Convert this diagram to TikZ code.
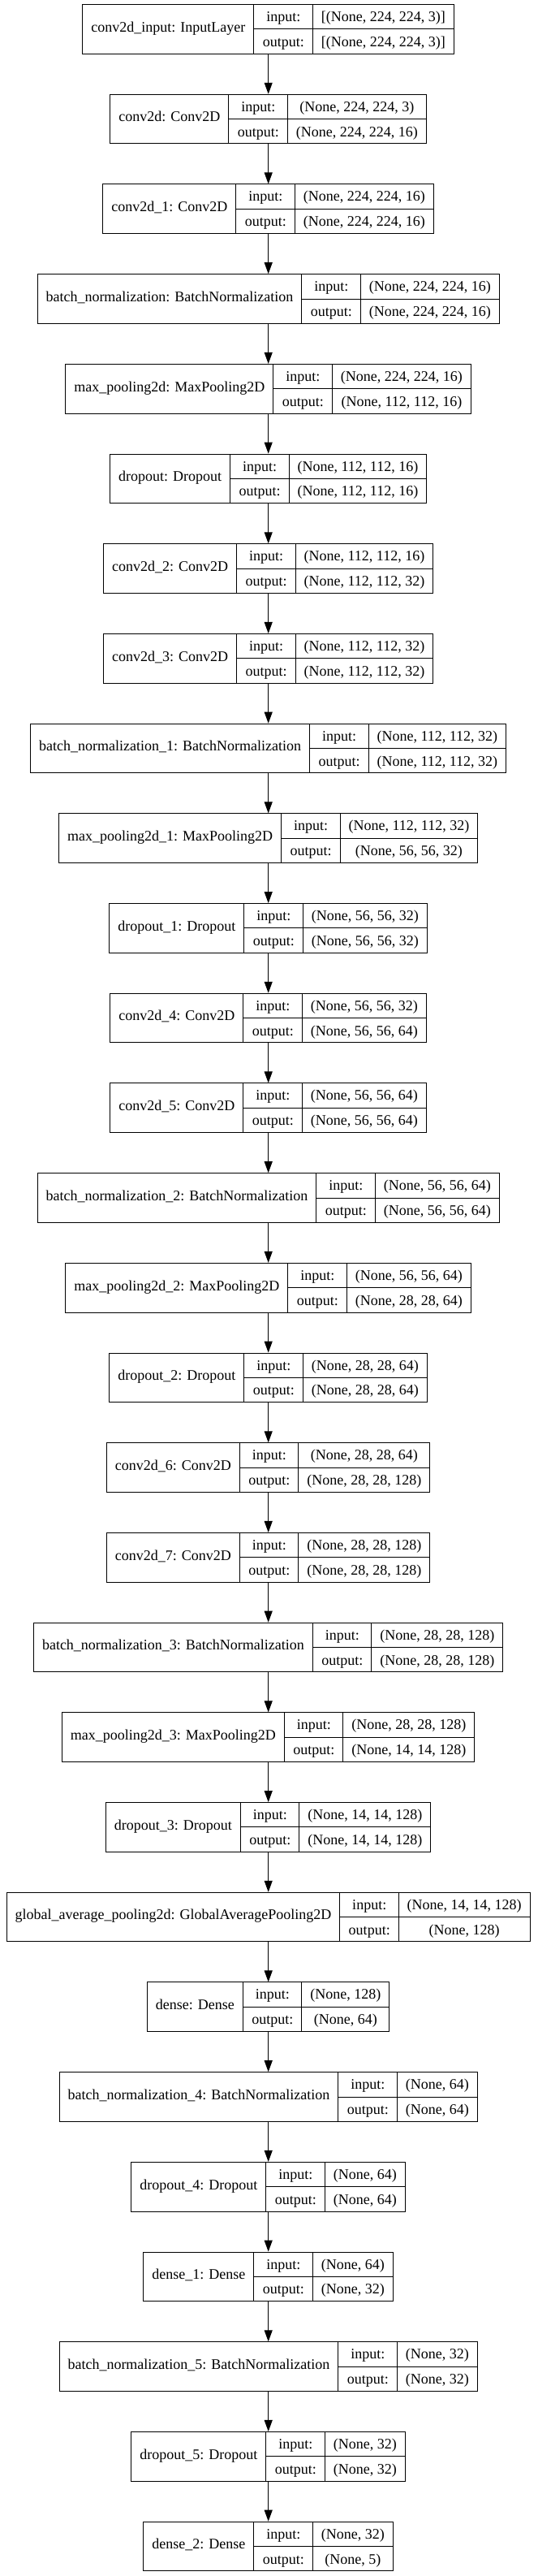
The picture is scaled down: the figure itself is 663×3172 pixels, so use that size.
\documentclass[tikz,border=0pt]{standalone}
\usepackage{fontspec}
\setmainfont{Liberation Serif}
\usetikzlibrary{arrows.meta}
\setlength{\arrayrulewidth}{1pt}
\setlength{\tabcolsep}{10.5pt}
\newcommand{\rowstrut}{\rule[-8.85pt]{0pt}{29.85pt}}
\newcommand{\shapetable}[3]{%
  \begin{tabular}{c|@{}c@{}}
    \raisebox{1pt}{#1} &
    \begin{tabular}{c|c}
      \rowstrut input: & #2 \\ \hline
      \rowstrut output: & #3
    \end{tabular}
  \end{tabular}}
\tikzstyle{layer} = [rectangle, draw=black, line width=1pt, inner sep=0pt, font=\fontsize{18}{21.6}\selectfont]
\tikzstyle{arrow} = [line width=1pt, -{Triangle[length=14pt, width=10pt]}]

\begin{document}
\begin{tikzpicture}[node distance=110.7pt]
			\useasboundingbox (0,0) rectangle (663pt,-3172pt);
			\node (input) [layer] at (330.7pt,-35.9pt) {\shapetable{conv2d\_input: InputLayer}{[(None, 224, 224, 3)]}{[(None, 224, 224, 3)]}};
			\node (conv) [layer, below of=input] {\shapetable{conv2d: Conv2D}{(None, 224, 224, 3)}{(None, 224, 224, 16)}};
			\node (conv1) [layer, below of=conv] {\shapetable{conv2d\_1: Conv2D}{(None, 224, 224, 16)}{(None, 224, 224, 16)}};
			\node (bn) [layer, below of=conv1] {\shapetable{batch\_normalization: BatchNormalization}{(None, 224, 224, 16)}{(None, 224, 224, 16)}};
			\node (pool) [layer, below of=bn] {\shapetable{max\_pooling2d: MaxPooling2D}{(None, 224, 224, 16)}{(None, 112, 112, 16)}};
			\node (drop) [layer, below of=pool] {\shapetable{dropout: Dropout}{(None, 112, 112, 16)}{(None, 112, 112, 16)}};
			\node (conv2) [layer, below of=drop] {\shapetable{conv2d\_2: Conv2D}{(None, 112, 112, 16)}{(None, 112, 112, 32)}};
			\node (conv3) [layer, below of=conv2] {\shapetable{conv2d\_3: Conv2D}{(None, 112, 112, 32)}{(None, 112, 112, 32)}};
			\node (bn1) [layer, below of=conv3] {\shapetable{batch\_normalization\_1: BatchNormalization}{(None, 112, 112, 32)}{(None, 112, 112, 32)}};
			\node (pool1) [layer, below of=bn1] {\shapetable{max\_pooling2d\_1: MaxPooling2D}{(None, 112, 112, 32)}{(None, 56, 56, 32)}};
			\node (drop1) [layer, below of=pool1] {\shapetable{dropout\_1: Dropout}{(None, 56, 56, 32)}{(None, 56, 56, 32)}};
			\node (conv4) [layer, below of=drop1] {\shapetable{conv2d\_4: Conv2D}{(None, 56, 56, 32)}{(None, 56, 56, 64)}};
			\node (conv5) [layer, below of=conv4] {\shapetable{conv2d\_5: Conv2D}{(None, 56, 56, 64)}{(None, 56, 56, 64)}};
			\node (bn2) [layer, below of=conv5] {\shapetable{batch\_normalization\_2: BatchNormalization}{(None, 56, 56, 64)}{(None, 56, 56, 64)}};
			\node (pool2) [layer, below of=bn2] {\shapetable{max\_pooling2d\_2: MaxPooling2D}{(None, 56, 56, 64)}{(None, 28, 28, 64)}};
			\node (drop2) [layer, below of=pool2] {\shapetable{dropout\_2: Dropout}{(None, 28, 28, 64)}{(None, 28, 28, 64)}};
			\node (conv6) [layer, below of=drop2] {\shapetable{conv2d\_6: Conv2D}{(None, 28, 28, 64)}{(None, 28, 28, 128)}};
			\node (conv7) [layer, below of=conv6] {\shapetable{conv2d\_7: Conv2D}{(None, 28, 28, 128)}{(None, 28, 28, 128)}};
			\node (bn3) [layer, below of=conv7] {\shapetable{batch\_normalization\_3: BatchNormalization}{(None, 28, 28, 128)}{(None, 28, 28, 128)}};
			\node (pool3) [layer, below of=bn3] {\shapetable{max\_pooling2d\_3: MaxPooling2D}{(None, 28, 28, 128)}{(None, 14, 14, 128)}};
			\node (drop3) [layer, below of=pool3] {\shapetable{dropout\_3: Dropout}{(None, 14, 14, 128)}{(None, 14, 14, 128)}};
			\node (gap) [layer, below of=drop3] {\shapetable{global\_average\_pooling2d: GlobalAveragePooling2D}{(None, 14, 14, 128)}{(None, 128)}};
			\node (dense) [layer, below of=gap] {\shapetable{dense: Dense}{(None, 128)}{(None, 64)}};
			\node (bn4) [layer, below of=dense] {\shapetable{batch\_normalization\_4: BatchNormalization}{(None, 64)}{(None, 64)}};
			\node (drop4) [layer, below of=bn4] {\shapetable{dropout\_4: Dropout}{(None, 64)}{(None, 64)}};
			\node (dense1) [layer, below of=drop4] {\shapetable{dense\_1: Dense}{(None, 64)}{(None, 32)}};
			\node (bn5) [layer, below of=dense1] {\shapetable{batch\_normalization\_5: BatchNormalization}{(None, 32)}{(None, 32)}};
			\node (drop5) [layer, below of=bn5] {\shapetable{dropout\_5: Dropout}{(None, 32)}{(None, 32)}};
			\node (dense2) [layer, below of=drop5] {\shapetable{dense\_2: Dense}{(None, 32)}{(None, 5)}};
			
			\draw [arrow] (input) -- (conv);
			\draw [arrow] (conv) -- (conv1);
			\draw [arrow] (conv1) -- (bn);
			\draw [arrow] (bn) -- (pool);
			\draw [arrow] (pool) -- (drop);
			\draw [arrow] (drop) -- (conv2);
			\draw [arrow] (conv2) -- (conv3);
			\draw [arrow] (conv3) -- (bn1);
			\draw [arrow] (bn1) -- (pool1);
			\draw [arrow] (pool1) -- (drop1);
			\draw [arrow] (drop1) -- (conv4);
			\draw [arrow] (conv4) -- (conv5);
			\draw [arrow] (conv5) -- (bn2);
			\draw [arrow] (bn2) -- (pool2);
			\draw [arrow] (pool2) -- (drop2);
			\draw [arrow] (drop2) -- (conv6);
			\draw [arrow] (conv6) -- (conv7);
			\draw [arrow] (conv7) -- (bn3);
			\draw [arrow] (bn3) -- (pool3);
			\draw [arrow] (pool3) -- (drop3);
			\draw [arrow] (drop3) -- (gap);
			\draw [arrow] (gap) -- (dense);
			\draw [arrow] (dense) -- (bn4);
			\draw [arrow] (bn4) -- (drop4);
			\draw [arrow] (drop4) -- (dense1);
			\draw [arrow] (dense1) -- (bn5);
			\draw [arrow] (bn5) -- (drop5);
			\draw [arrow] (drop5) -- (dense2);
		\end{tikzpicture}
\end{document}
